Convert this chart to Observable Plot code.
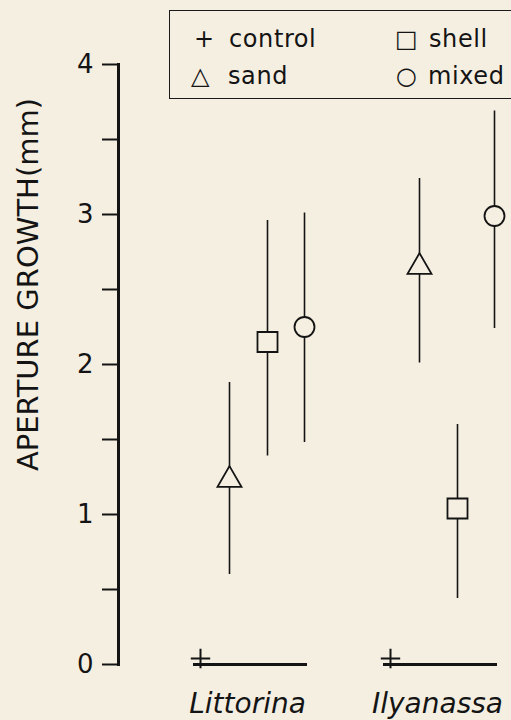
<!DOCTYPE html>
<html><head><meta charset="utf-8">
<script src="https://cdn.jsdelivr.net/npm/d3@7"></script>
<script src="https://cdn.jsdelivr.net/npm/@observablehq/plot@0.6"></script>
<style>
html,body{margin:0;padding:0;background:#f5efe2;}
#wrap{position:relative;width:511px;height:720px;overflow:hidden;font-family:"DejaVu Sans",sans-serif;color:#141414;}
#legend{position:absolute;left:169px;top:10px;width:360px;height:89px;border:1.5px solid #1a1a1a;box-sizing:border-box;}
.item{position:absolute;font-size:24px;line-height:1;white-space:nowrap;letter-spacing:0.6px;}
</style></head><body><div id="wrap"><div id="legend"></div></div>
<script>
const species = ["Littorina", "Ilyanassa"];
const treatments = ["control", "sand", "shell", "mixed"];
const symbols = ["plus", "triangle", "square", "circle"];
const legendGlyphs = ["+", "\u25B3", "\u25A1", "\u25CB"];

const controlMean = [0.04, 0.04];
const sandMean = [1.23, 2.65];
const sandLo = [0.60, 2.01];
const sandHi = [1.88, 3.24];
const shellMean = [2.15, 1.04];
const shellLo = [1.39, 0.44];
const shellHi = [2.96, 1.60];
const mixedMean = [2.25, 2.99];
const mixedLo = [1.48, 2.24];
const mixedHi = [3.01, 3.69];

const yLabel = "APERTURE GROWTH(mm)";
const majorTicks = [0, 1, 2, 3, 4];
const minorTicks = [0.5, 1.5, 2.5, 3.5];

const bg = "#f5efe2";
const ink = "#141414";

function rowsFor(mean, lo, hi) {
  return species.map((s, i) => ({species: s, mean: mean[i], lo: lo ? lo[i] : null, hi: hi ? hi[i] : null}));
}
const control = rowsFor(controlMean);
const sand = rowsFor(sandMean, sandLo, sandHi);
const shell = rowsFor(shellMean, shellLo, shellHi);
const mixed = rowsFor(mixedMean, mixedLo, mixedHi);

const offsets = {control: -50, sand: -21, shell: 17, mixed: 54};
const radius = {control: 6.3, sand: 8.9, shell: 11.3, mixed: 10};

function group(rows, name, sym) {
  const m = [];
  if (name !== "control") {
    m.push(Plot.ruleX(rows, {x: "species", y1: "lo", y2: "hi", dx: offsets[name], stroke: ink, strokeWidth: 1.6}));
  }
  m.push(Plot.dot(rows, {x: "species", y: "mean", dx: offsets[name], symbol: () => sym, r: radius[name],
    fill: name === "control" ? "none" : bg, stroke: ink, strokeWidth: name === "control" ? 2 : 1.8}));
  return m;
}

const chart = Plot.plot({
  width: 511, height: 720,
  marginLeft: 118, marginRight: 0, marginTop: 64, marginBottom: 56,
  style: {background: "transparent", fontFamily: "DejaVu Sans", color: ink, overflow: "visible"},
  x: {type: "band", domain: species, range: [192, 497], paddingInner: 0.4, paddingOuter: 0},
  y: {domain: [0, 4]},
  symbol: {type: "identity"},
  marks: [
    Plot.frame({anchor: "left", stroke: ink, strokeWidth: 3}),
    Plot.axisY({ticks: majorTicks, tickSize: 16, tickPadding: 9, fontSize: 26, strokeWidth: 2, label: null, tickFormat: d3.format("d")}),
    Plot.axisY({ticks: minorTicks, tickSize: 16, strokeWidth: 2, label: null, tickFormat: () => ""}),
    Plot.axisX({tickSize: 0, tickPadding: 29, fontSize: 28, fontStyle: "italic", label: null, dx: -3}),
    Plot.text([yLabel], {frameAnchor: "left", textAnchor: "middle", lineAnchor: "middle", rotate: -90, dx: -90, dy: -80, fontSize: 29, fill: ink}),
    Plot.tickY(control, {x: "species", y: 0, stroke: ink, strokeWidth: 3}),
    ...group(control, "control", symbols[0]),
    ...group(sand, "sand", symbols[1]),
    ...group(shell, "shell", symbols[2]),
    ...group(mixed, "mixed", symbols[3])
  ]
});
const wrap = document.getElementById("wrap");
wrap.insertBefore(chart, wrap.firstChild);

const legendPos = [[194, 27, 229, 27], [191, 64, 228, 64], [395, 27, 429, 27], [396, 64, 428, 64]];
treatments.forEach((t, i) => {
  const [gx, gy, tx, ty] = legendPos[i];
  const g = document.createElement("span");
  g.className = "item"; g.textContent = legendGlyphs[i];
  g.style.left = gx + "px"; g.style.top = gy + "px";
  const s = document.createElement("span");
  s.className = "item"; s.textContent = t;
  s.style.left = tx + "px"; s.style.top = ty + "px";
  wrap.appendChild(g); wrap.appendChild(s);
});
</script></body></html>
